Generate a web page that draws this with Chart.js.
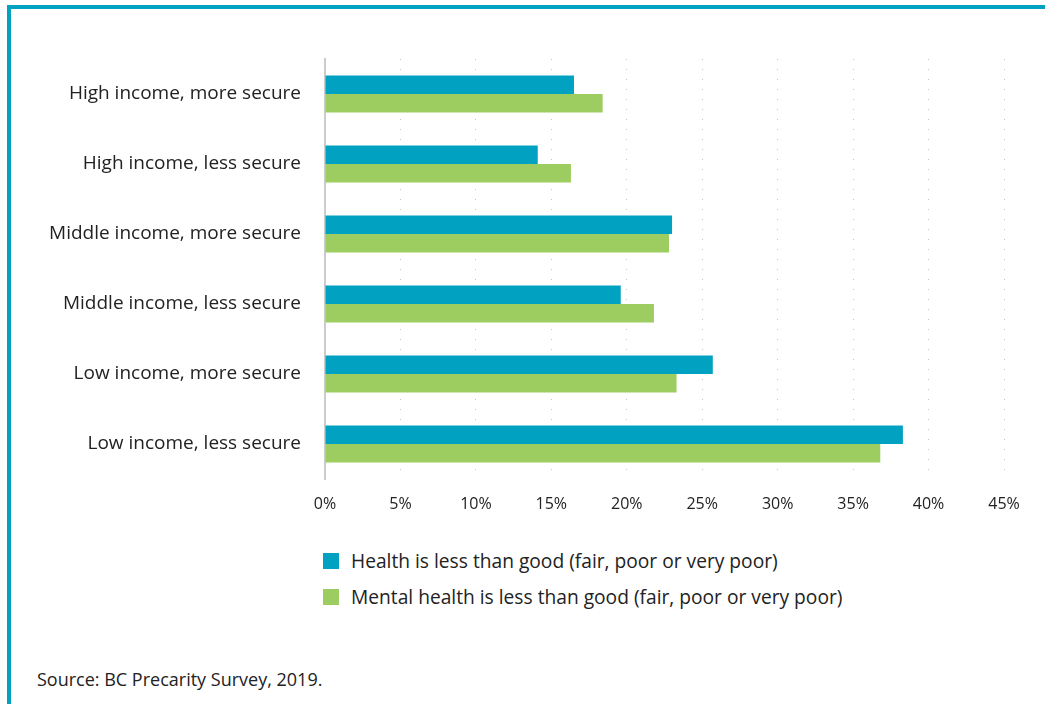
<!DOCTYPE html>
<html>
<head>
<meta charset="utf-8">
<style>
  html, body { margin: 0; padding: 0; background: #fff; }
  body { width: 1049px; height: 704px; position: relative; overflow: hidden; font-family: "Open Sans", "Noto Sans", sans-serif; color: #222; }
  .frame-top { position: absolute; left: 7px; top: 5px; width: 1038px; height: 4px; background: #00a1c1; }
  .frame-left { position: absolute; left: 7px; top: 5px; width: 4px; height: 699px; background: #00a1c1; }
  #wrap { position: absolute; left: 0; top: 0; width: 1049px; height: 530px; }
  .legend { position: absolute; left: 323px; top: 551px; font-size: 19.2px; line-height: 20px; }
  .legend .item { display: flex; align-items: center; height: 20px; margin-bottom: 16px; }
  .legend .box { width: 16px; height: 16px; margin-right: 12px; }
  .source { position: absolute; left: 37px; top: 667px; font-size: 18px; }
</style>
</head>
<body>
<div class="frame-top"></div>
<div class="frame-left"></div>
<div id="wrap"><canvas id="chart"></canvas></div>
<div class="legend" id="legend"></div>
<div class="source">Source: BC Precarity Survey, 2019.</div>
<script src="https://cdn.jsdelivr.net/npm/chart.js@4/dist/chart.umd.min.js"></script>
<script>
// Share of respondents reporting less-than-good health, by income and security group
const categories = [
  "High income, more secure",
  "High income, less secure",
  "Middle income, more secure",
  "Middle income, less secure",
  "Low income, more secure",
  "Low income, less secure"
];
const healthLessThanGood = [16.5, 14.1, 23.0, 19.6, 25.7, 38.3];
const mentalHealthLessThanGood = [18.4, 16.3, 22.8, 21.8, 23.3, 36.8];
const seriesNames = [
  "Health is less than good (fair, poor or very poor)",
  "Mental health is less than good (fair, poor or very poor)"
];
const seriesColors = ["#00a1c1", "#9dcd60"];
const xTickMax = 45;
const xTickStep = 5;

const labelFont = '"Open Sans", "Noto Sans", sans-serif';

const chart = new Chart(document.getElementById('chart'), {
  type: 'bar',
  data: {
    labels: categories,
    datasets: [
      { label: seriesNames[0], data: healthLessThanGood, backgroundColor: seriesColors[0] },
      { label: seriesNames[1], data: mentalHealthLessThanGood, backgroundColor: seriesColors[1] }
    ]
  },
  options: {
    indexAxis: 'y',
    responsive: true,
    maintainAspectRatio: false,
    animation: false,
    layout: { padding: { top: 59, right: 45, bottom: 11, left: 0 } },
    datasets: { bar: { categoryPercentage: 0.53, barPercentage: 1.0 } },
    plugins: { legend: { display: false }, tooltip: { enabled: false } },
    scales: {
      x: {
        min: 0,
        max: xTickMax,
        ticks: {
          stepSize: xTickStep,
          padding: 16,
          color: '#222',
          font: { family: labelFont, size: 16 },
          callback: v => v + '%'
        },
        grid: { color: '#c4c4c4', lineWidth: 1, drawTicks: false },
        border: { display: false, dash: [1, 9] },
        afterFit: s => { s.height = 40; }
      },
      y: {
        ticks: {
          padding: 24,
          color: '#222',
          font: { family: labelFont, size: 19 }
        },
        grid: { display: false, drawTicks: false },
        border: { display: true, color: '#cccccc', width: 2 },
        afterFit: s => { s.width = 325; }
      }
    }
  }
});

// Legend built from the dataset colours and names
const legendEl = document.getElementById('legend');
chart.data.datasets.forEach(ds => {
  const item = document.createElement('div');
  item.className = 'item';
  const box = document.createElement('span');
  box.className = 'box';
  box.style.background = ds.backgroundColor;
  const txt = document.createElement('span');
  txt.textContent = ds.label;
  item.appendChild(box);
  item.appendChild(txt);
  legendEl.appendChild(item);
});
</script>
</body>
</html>
